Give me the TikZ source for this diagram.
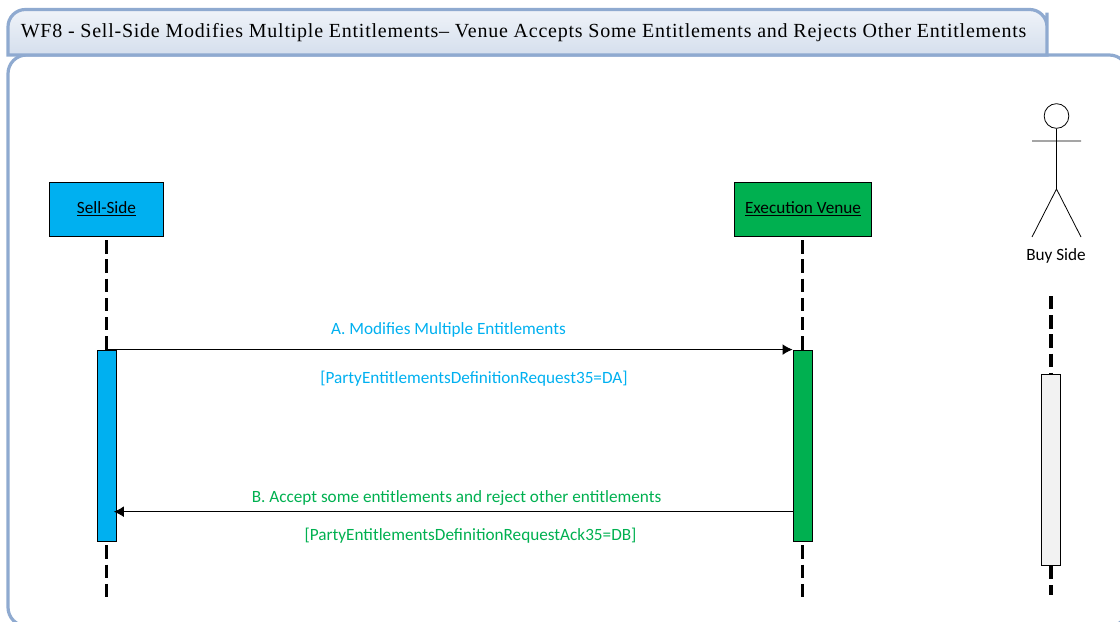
\documentclass[tikz,border=0pt]{standalone}
\usepackage{fontspec}
\setmainfont{Carlito}
\newfontfamily\titlefont[LetterSpace=3.8]{Liberation Serif}
\usetikzlibrary{positioning, arrows.meta, calc}
\definecolor{frameblue}{HTML}{8FAAD0}
\definecolor{sellcyan}{HTML}{00B0F0}
\definecolor{venuegreen}{HTML}{00B050}
\tikzset{
  actorbox/.style={draw=black, minimum height=40.5pt, inner sep=0pt, font=\fontsize{12.9}{15}\selectfont},
  actbar/.style={draw=black, minimum width=14.5pt, minimum height=143.5pt, inner sep=0pt},
  lifeline/.style={black, line width=2.4pt, dash pattern=on 10pt off 4.4pt},
  msg/.style={black, line width=.7pt, -{Latex[length=7.5pt,width=8pt]}},
  msglabel/.style={inner sep=0pt, font=\fontsize{12.9}{15}\selectfont},
}
\begin{document}
\begin{tikzpicture}[x=.75pt, y=-.75pt]
  \useasboundingbox (0,0) rectangle (1120,621);
  \clip (0,0) rectangle (1120,621);

  % frame and title tab
  \draw[frameblue, line width=2.4pt, rounded corners=14pt] (8,55) rectangle (1128,626);
  \draw[frameblue, line width=2.4pt, top color=frameblue!14, bottom color=frameblue!38]
    (8,55) -- (8,30) [rounded corners=13pt] -- (8,9.5) -- (1047,9.5) -- (1047,30) [sharp corners] -- (1047,55) -- cycle;
  \node[font=\titlefont\fontsize{15}{16}\selectfont, inner sep=0pt, anchor=west] (title) at (20.5,33)
    {WF8 - Sell-Side Modifies Multiple Entitlements– Venue Accepts Some Entitlements and Rejects Other Entitlements};

  % participants
  \node[actorbox, fill=sellcyan, minimum width=85.5pt] (sell) at (106.5,209) {\raisebox{-.8pt}{\underline{Sell-Side}}};
  \node[actorbox, fill=venuegreen, minimum width=103pt] (venue) at (803,209) {\raisebox{-.8pt}{\underline{Execution Venue}}};
  \node[actbar, fill=sellcyan] (sellbar) at (106.5,445.5) {};
  \node[actbar, fill=venuegreen] (venuebar) at (802.5,445.5) {};
  \node[actbar, fill=black!5] (buybar) at (1051,469.5) {};

  % buy side stick figure
  \node[draw=black, circle, minimum size=18.5pt, inner sep=0pt, line width=.6pt] (head) at (1056.5,116) {};
  \coordinate (arml) at (1032,141);
  \coordinate (armr) at (1081,141);
  \coordinate (hip) at (1056.5,189);
  \coordinate (legl) at (1032,237);
  \coordinate (legr) at (1081,237);
  \draw[line width=.6pt] (head.south) -- (hip) (arml) -- (armr) (legl) -- (hip) -- (legr);
  \node[msglabel] (buy) at (1056,256) {Buy Side};

  % lifelines
  \coordinate (sellend) at (106.5,598);
  \coordinate (venueend) at (802.5,598);
  \coordinate (buytop) at (1051,296);
  \coordinate (buyend) at (1051,595);
  \draw[lifeline] ([yshift=-3pt]sell.south) -- (sellbar.north);
  \draw[lifeline] ([yshift=-3pt]venue.south -| venuebar.north) -- (venuebar.north);
  \draw[lifeline] (buytop) -- (buybar.north);
  \draw[lifeline] ([yshift=-3pt]sellbar.south) -- (sellend);
  \draw[lifeline] ([yshift=-3pt]venuebar.south) -- (venueend);
  \draw[lifeline] ([yshift=-.5pt]buybar.south) -- (buyend);

  % messages
  \draw[msg] (sellbar.north) -- (venuebar.north west);
  \draw[msg, shorten >=-2pt] ($(venuebar.south west)!.155!(venuebar.north west)$) -- ($(sellbar.south east)!.155!(sellbar.north east)$);
  \node[msglabel, text=sellcyan] (reqa) at (448.5,330) {A. Modifies Multiple Entitlements};
  \node[msglabel, text=sellcyan] (reqb) at (474,379) {[PartyEntitlementsDefinitionRequest35=DA]};
  \node[msglabel, text=venuegreen] (acka) at (456.5,498) {B. Accept some entitlements and reject other entitlements};
  \node[msglabel, text=venuegreen] (ackb) at (470.5,536) {[PartyEntitlementsDefinitionRequestAck35=DB]};
\end{tikzpicture}
\end{document}
